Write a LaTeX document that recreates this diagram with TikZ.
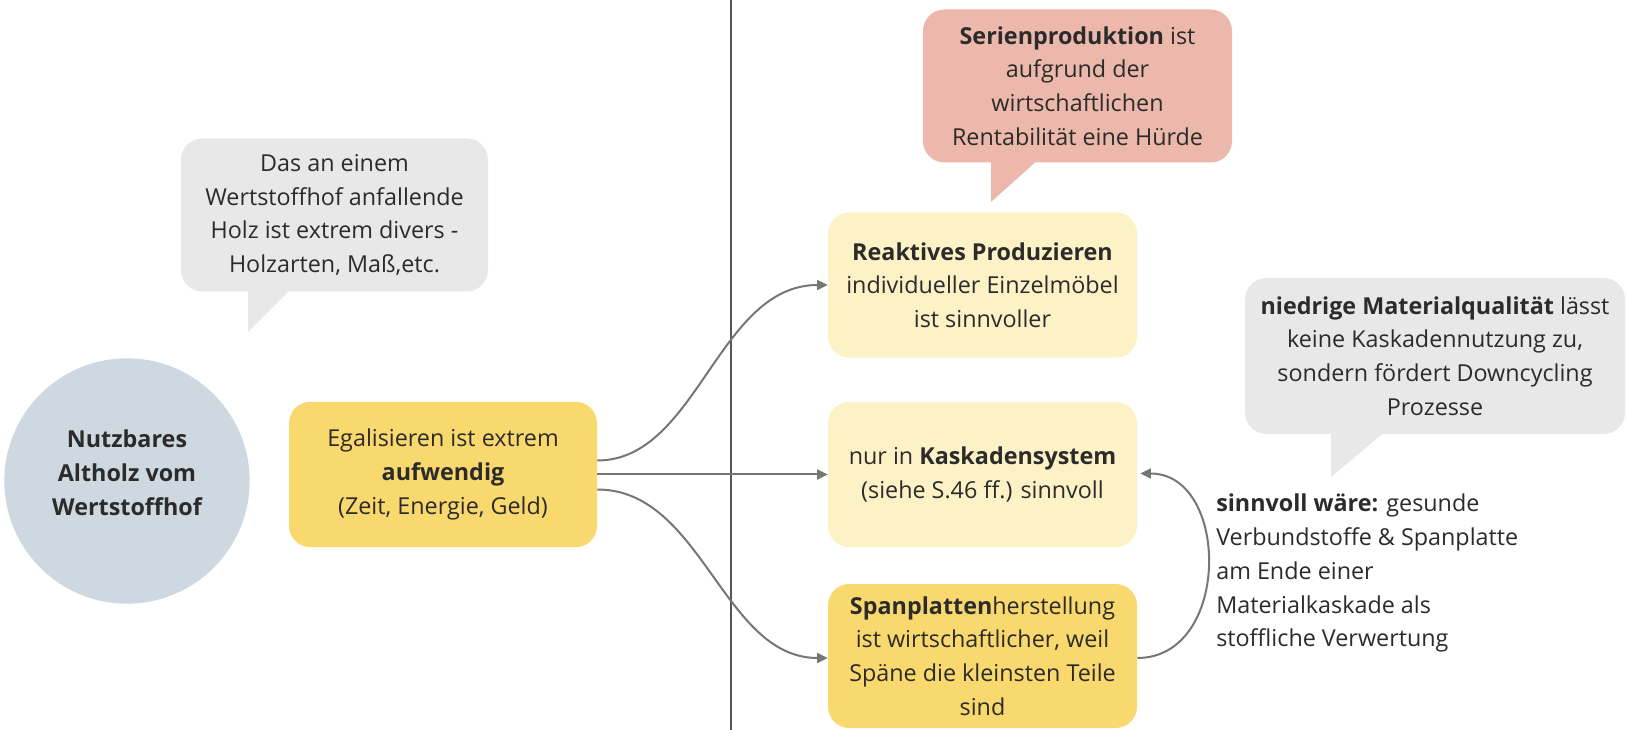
\documentclass[tikz,border=0pt]{standalone}
\usepackage{fontspec}
\setmainfont{Open Sans}
\usetikzlibrary{calc,arrows.meta}

\definecolor{txt}{HTML}{2B2B2B}
\definecolor{circlefill}{HTML}{CDD8E1}
\definecolor{notegray}{HTML}{E8E8E8}
\definecolor{gold}{HTML}{F9D86E}
\definecolor{pale}{HTML}{FDF1C6}
\definecolor{salmon}{HTML}{EDB8AC}
\definecolor{arrowgray}{HTML}{767676}
\definecolor{divider}{HTML}{555555}

\begin{document}
\begin{tikzpicture}[
  x=0.75pt, y=-0.75pt,
  every node/.style={font=\fontsize{17.5}{25.3}\selectfont, text=txt, align=center, inner sep=0pt},
  card/.style={rectangle, rounded corners=16pt, minimum width=231.75pt, minimum height=109pt},
  goldcard/.style={card, fill=gold},
  palecard/.style={card, fill=pale},
  note/.style={rectangle, rounded corners=16pt},
  flow/.style={draw=arrowgray, line width=1.5pt, -{Triangle[length=8pt,width=7.5pt]}},
]
\useasboundingbox (0,0) rectangle (1627,730);

% divider between the two halves
\coordinate (divtop) at (731,0);
\coordinate (divbot) at (731,730);
\draw[divider, line width=1.2pt] (divtop) -- (divbot);

% left half
\node[circle, fill=circlefill, minimum size=184pt, font=\fontsize{17.5}{25.3}\selectfont\bfseries]
  (source) at (127,481) {Nutzbares\\Altholz vom\\Wertstoffhof\\[-13pt]};

\fill[notegray] (248,288) -- (292,288) -- (248,332) -- cycle;
\node[note, fill=notegray, minimum width=230.25pt, minimum height=114.75pt]
  (diverse) at (334.5,215) {Das an einem\\Wertstoffhof anfallende\\Holz ist extrem divers -\\Holzarten, Maß,etc.};

\node[goldcard, minimum width=231pt] (ega) at (443,474.5)
  {Egalisieren ist extrem\\\textbf{aufwendig}\\(Zeit, Energie, Geld)};

% right half
\fill[salmon] (991,158) -- (1040,158) -- (991,202) -- cycle;
\node[note, fill=salmon, minimum width=231.75pt, minimum height=114.75pt]
  (serie) at (1077.5,86) {\textbf{Serienproduktion} ist\\aufgrund der\\wirtschaftlichen\\Rentabilität eine Hürde};

\node[palecard] (rea) at (982.5,285)
  {\textbf{Reaktives Produzieren}\\individueller Einzelmöbel\\ist sinnvoller};

\node[palecard] (kas) at (982.5,474.5)
  {nur in \textbf{Kaskadensystem}\\(siehe S.46 ff.) sinnvoll};

\node[goldcard, minimum height=108pt] (span) at (982.5,656)
  {\textbf{Spanplatten}herstellung\\ist wirtschaftlicher, weil\\Späne die kleinsten Teile\\sind};

\fill[notegray] (1331,430) -- (1387,430) -- (1331,477) -- cycle;
\node[note, fill=notegray, minimum width=285pt, minimum height=117pt]
  (quality) at (1435,356) {\textbf{niedrige Materialqualität} lässt\\keine Kaskadennutzung zu,\\sondern fördert Downcycling\\Prozesse};

\node[anchor=north west, align=left] (better) at (1216,494)
  {\textbf{sinnvoll wäre:} gesunde\\Verbundstoffe \& Spanplatte\\am Ende einer\\Materialkaskade als\\stoffliche Verwertung};

% connectors
\draw[flow] ($(ega.east)+(0,-14)$) .. controls +(100,0) and +(-110,0) .. (rea.west);
\draw[flow] (ega.east) -- (kas.west);
\draw[flow] ($(ega.east)+(0,15)$) .. controls +(105,0) and +(-105,0) .. ($(span.west)+(0,2)$);
\draw[flow] ($(span.east)+(0,2)$) .. controls +(94,0) and +(90,0) .. ($(kas.east)+(3,-1)$);
\end{tikzpicture}
\end{document}
